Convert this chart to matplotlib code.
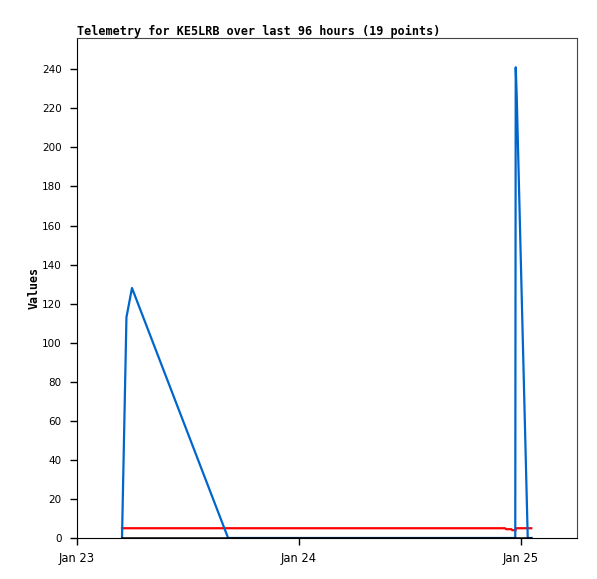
import matplotlib
matplotlib.use("Agg")
import matplotlib.pyplot as plt
import matplotlib.dates as mdates
import numpy as np
from datetime import datetime, timedelta

start = datetime(2024, 1, 23)

# hours since Jan 23 00:00
blue_hours = [4.87, 5.35, 5.95, 16.35, 47.42, 47.47, 47.58, 48.77, 49.15]
blue_vals = [0, 113, 128, 0, 0, 241, 226, 0, 0]

red_hours = [4.87, 46.3, 46.45, 47.0, 47.1, 47.45, 47.5, 49.15]
red_vals = [5, 5, 4.5, 4.5, 4.0, 4.0, 5, 5]

black_hours = [4.87, 49.15]
black_vals = [0, 0]

title = "Telemetry for KE5LRB over last 96 hours (19 points)"
ylabel = "Values"
yticks = list(range(0, 241, 20))
xtick_days = [23, 24, 25]

def to_dt(hours):
    return [start + timedelta(hours=h) for h in hours]

fig = plt.figure(figsize=(5.97, 5.79), dpi=100)
ax = fig.add_axes([77/597, 1-538/579, 500/597, 500/579])

ax.plot(to_dt(red_hours), red_vals, color="#FF0000", lw=1.6, solid_joinstyle="miter")
ax.plot(to_dt(blue_hours), blue_vals, color="#0066CC", lw=1.6)
ax.plot(to_dt(black_hours), black_vals, color="#000000", lw=1.8)

ax.set_ylim(0, 256)
ax.set_xlim(start, start + timedelta(hours=54.1))
ax.set_yticks(yticks)
ax.set_xticks([datetime(2024, 1, d) for d in xtick_days])
ax.set_xticklabels([f"Jan\u2009 {d}" if False else f"Jan {d}" for d in xtick_days])

ax.tick_params(axis="both", direction="out", length=5, width=1, labelsize=7.5,
               color="black")
ax.tick_params(axis="x", pad=5, labelsize=8.3)
ax.tick_params(axis="y", pad=6)
for lab in ax.get_xticklabels() + ax.get_yticklabels():
    lab.set_family("DejaVu Sans")

for s in ["left", "bottom"]:
    ax.spines[s].set_color("black")
for s in ["top", "right"]:
    ax.spines[s].set_color("#444444")

ax.set_ylabel(ylabel, family="DejaVu Sans Mono", fontweight="bold", fontsize=8.4, labelpad=1)
fig.text(77/597, 1-35/579, title, family="DejaVu Sans Mono", fontweight="bold",
         fontsize=8.45, ha="left", va="baseline")

fig.savefig("out.png", dpi=100, facecolor="white")
